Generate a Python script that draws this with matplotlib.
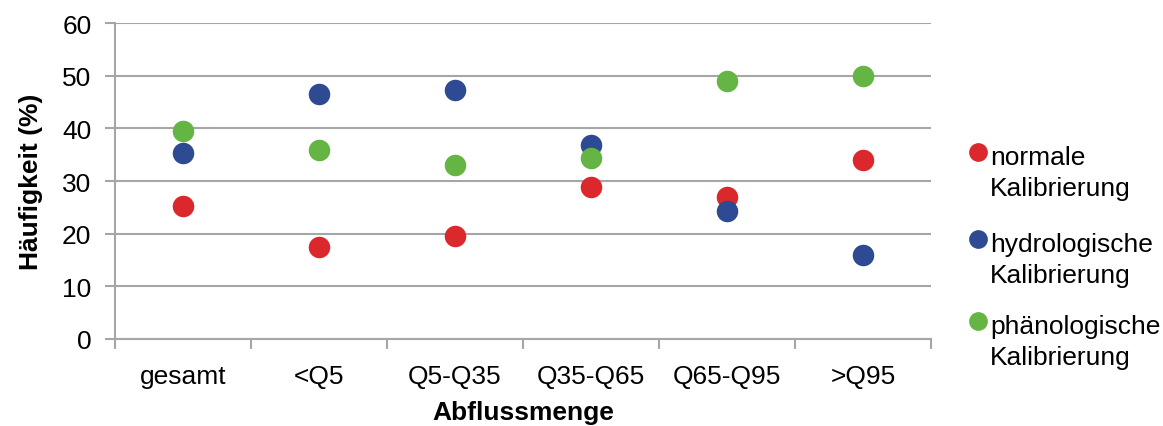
import matplotlib.pyplot as plt
from matplotlib.lines import Line2D

plt.rcParams['font.family'] = ['Liberation Sans', 'DejaVu Sans']

kategorien = ['gesamt', '<Q5', 'Q5-Q35', 'Q35-Q65', 'Q65-Q95', '>Q95']
normal = [25.3, 17.5, 19.5, 28.9, 27.0, 34.0]
hydrologisch = [35.4, 46.6, 47.3, 36.8, 24.3, 15.9]
phaenologisch = [39.4, 35.9, 33.0, 34.4, 48.9, 49.9]

reihen = [
    ('normale', normal, '#da282c'),
    ('hydrologische', hydrologisch, '#2e4a93'),
    ('phänologische', phaenologisch, '#64b543'),
]

grau = '#a6a6a6'
fs = 19

fig = plt.figure(figsize=(11.63, 4.27), dpi=100)
ax = fig.add_axes([115 / 1163, 1 - 340 / 427, 816 / 1163, 316 / 427])

x = list(range(len(kategorien)))
for name, werte, farbe in reihen:
    ax.plot(x, werte, linestyle='none', marker='o', markersize=15.5,
            markeredgewidth=0, color=farbe, zorder=3)

ax.set_xlim(-0.5, len(kategorien) - 0.5)
ax.set_ylim(0, 60)
ax.set_yticks(range(0, 61, 10))
ax.yaxis.grid(True, color=grau, linewidth=1.5)
ax.set_axisbelow(True)

# Kategorienamen zwischen den Teilstrichen
ax.set_xticks([i - 0.5 for i in range(len(kategorien) + 1)])
ax.set_xticklabels([])
ax.set_xticks(x, minor=True)
ax.set_xticklabels(kategorien, minor=True)
ax.tick_params(axis='x', which='minor', length=0, pad=18, labelsize=fs)
ax.tick_params(axis='x', which='major', length=7, width=1.5, color=grau)
ax.tick_params(axis='y', length=7, width=1.5, color=grau, labelsize=fs, pad=10)

for s in ['top', 'right']:
    ax.spines[s].set_visible(False)
for s in ['left', 'bottom']:
    ax.spines[s].set_color(grau)
    ax.spines[s].set_linewidth(1.5)

ax.set_ylabel('Häufigkeit (%)', fontsize=fs, fontweight='bold', labelpad=14)
ax.set_xlabel('Abflussmenge', fontsize=fs, fontweight='bold', labelpad=9)

# Legende rechts, Punkt neben der ersten Zeile
leg_y = [153, 240, 322]
for (name, werte, farbe), yp in zip(reihen, leg_y):
    fig.add_artist(Line2D([978 / 1163], [1 - yp / 427], marker='o', markersize=13.5,
                          markeredgewidth=0, color=farbe, transform=fig.transFigure))
    fig.text(990 / 1163, 1 - (yp + 12) / 427, name, fontsize=fs, va='baseline', ha='left')
    fig.text(990 / 1163, 1 - (yp + 43) / 427, 'Kalibrierung', fontsize=fs,
             va='baseline', ha='left')

fig.savefig('out.png', dpi=100)
